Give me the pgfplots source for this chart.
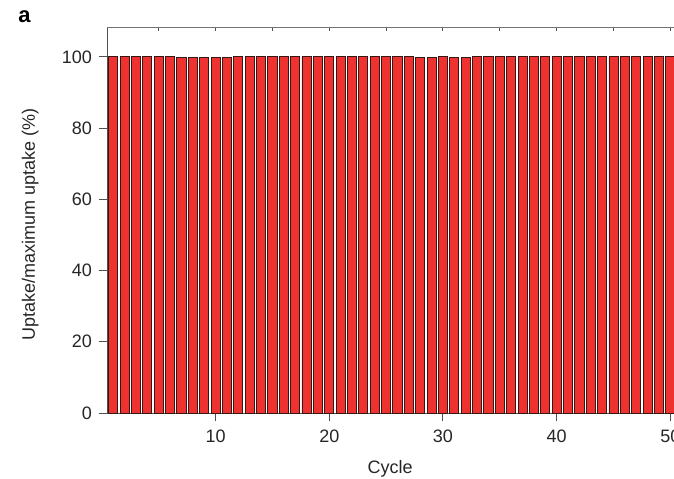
\documentclass[border=0pt]{standalone}
\usepackage{pgfplots}
\pgfplotsset{compat=1.18}
\usepackage{fontspec}
\setmainfont{Liberation Sans}
\definecolor{barred}{RGB}{237,50,47}
\definecolor{baredge}{RGB}{55,22,22}
\definecolor{axgray}{RGB}{80,80,80}
\begin{document}
\begin{tikzpicture}
\path[use as bounding box] (0,0) rectangle (337pt,239pt);
\clip (0,0) rectangle (337pt,239pt);
\begin{axis}[
 at={(53.5pt,32.5pt)}, anchor=south west,
 scale only axis, width=284.8pt, height=192.5pt,
 xmin=0.45, xmax=50.55, ymin=0, ymax=108.1,
 axis x line*=bottom, axis y line*=left,
 axis line style={-, axgray, line width=0.5pt},
 tick style={axgray, line width=0.5pt},
 tick align=outside, major tick length=4pt,
 xtick={10,20,30,40,50}, ytick={0,20,40,60,80,100},
 /pgf/number format/assume math mode=true,
 every tick label/.append style={font=\fontsize{9}{10}\selectfont, text=black!85},
 xticklabel style={yshift=-1pt},
 label style={font=\fontsize{9}{10}\selectfont, text=black!85},
 xlabel={Cycle},
 ylabel={Uptake/maximum uptake (\%)},
 xlabel style={at={(axis description cs:0.497,-0.145)}, anchor=center},
 ylabel style={at={(axis description cs:-0.135,0.49)}, anchor=center},
 clip=false,
]
\addplot[ybar, bar width=0.8, fill=barred, draw=baredge, line width=0.45pt] coordinates {
(1,100)(2,100)(3,100)(4,100)(5,100)(6,100)(7,99.7)(8,99.7)(9,99.7)(10,99.7)
(11,99.7)(12,100)(13,100)(14,100)(15,100)(16,100)(17,100)(18,100)(19,100)(20,100)
(21,100)(22,100)(23,100)(24,100)(25,100)(26,100)(27,100)(28,99.7)(29,99.7)(30,100)
(31,99.7)(32,99.7)(33,100)(34,100)(35,100)(36,100)(37,100)(38,100)(39,100)(40,100)
(41,100)(42,100)(43,100)(44,100)(45,100)(46,100)(47,100)(48,100)(49,100)(50,100)
};
\node[font=\bfseries\fontsize{11}{12}\selectfont, anchor=center] at (axis description cs:-0.145,1.03) {a};
\end{axis}
\begin{axis}[
 at={(53.5pt,32.5pt)}, anchor=south west,
 scale only axis, width=284.8pt, height=192.5pt,
 xmin=0.45, xmax=50.55, ymin=0, ymax=108.1,
 axis x line*=top, axis y line=none,
 axis line style={-, axgray!80, line width=0.5pt},
 tick style={axgray, line width=0.5pt},
 tick align=inside, major tick length=1.5pt,
 xtick={5,10,...,50}, xticklabels={},
]
\addplot[draw=none] coordinates {(1,0)};
\end{axis}
\end{tikzpicture}
\end{document}
